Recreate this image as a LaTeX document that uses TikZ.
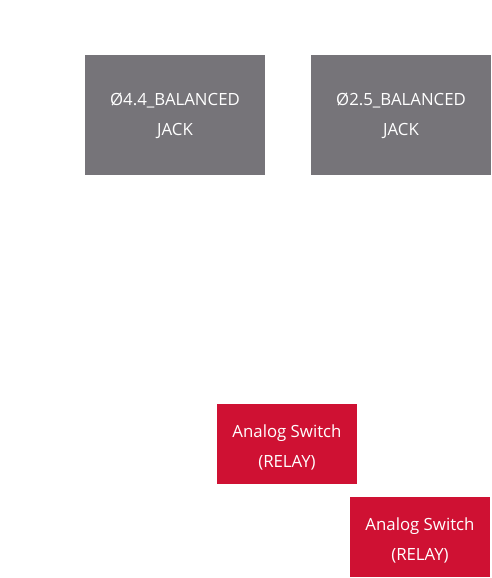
\documentclass[tikz,border=0pt]{standalone}
\usepackage{fontspec}
\setmainfont{Open Sans}
\definecolor{boxgray}{HTML}{767479}
\definecolor{boxred}{HTML}{CF1133}
\begin{document}
\begin{tikzpicture}[x=1pt,y=-1pt,
  txt/.style={text=white,font=\fontsize{16.8}{30}\selectfont,align=center,inner sep=0pt}]
\useasboundingbox[fill=white] (0,0) rectangle (492,578);
\fill[boxgray] (85,55) rectangle (265,175);
\node[txt] (j1) at (175,116) {Ø4.4\_BALANCED\\JACK};
\fill[boxgray] (311,55) rectangle (491,175);
\node[txt] (j2) at (401,116) {Ø2.5\_BALANCED\\JACK};
\fill[boxred] (217,404) rectangle (357,484);
\node[txt] (s1) at (287,447) {Analog Switch\\(RELAY)};
\fill[boxred] (350,497) rectangle (490,577);
\node[txt] (s2) at (420,540) {Analog Switch\\(RELAY)};
\end{tikzpicture}
\end{document}
